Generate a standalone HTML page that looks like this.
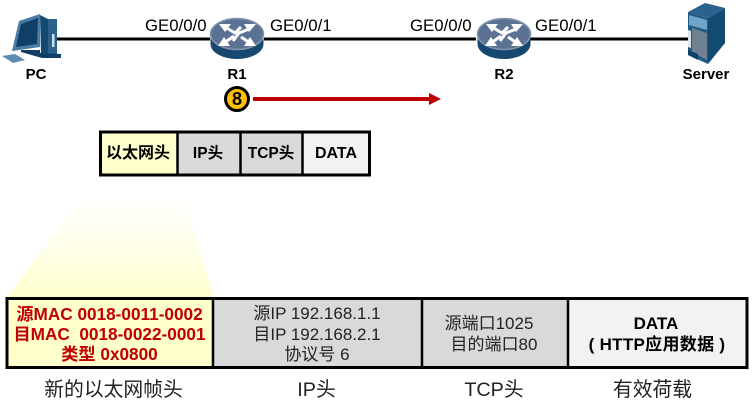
<!DOCTYPE html>
<html><head><meta charset="utf-8"><style>
html,body{margin:0;padding:0;background:#fff}
svg{display:block}
text{font-family:"Liberation Sans","Noto Sans CJK SC",sans-serif;fill:#000}
.b{font-weight:bold}
.r{fill:#c00000;font-weight:bold;font-size:17.200px}
.g{fill:#222;font-size:17px}
.c{fill:#222;font-size:19.800px}
</style></head><body>
<svg width="753" height="406" viewBox="0 0 753 406" xmlns="http://www.w3.org/2000/svg">
<defs>
<linearGradient id="fade" x1="0" y1="0" x2="0" y2="1"><stop offset="0" stop-color="#ffffcc" stop-opacity="0"/><stop offset="0.18" stop-color="#ffffcc" stop-opacity="0"/><stop offset="0.6" stop-color="#ffffcc" stop-opacity="0.45"/><stop offset="1" stop-color="#ffffcc"/></linearGradient>
<g id="router">
<path d="M-26.500 0V10A26.500 15 0 0 0 26.500 10V0Z" fill="#17486f"/>
<ellipse cx="0" cy="0" rx="26.500" ry="15.500" fill="#5c7295" stroke="#8496b0" stroke-width="1.500"/>
<g stroke="#fff" stroke-width="3" fill="none">
<path d="M-12 -7L-2 -1L4 -7M12 -5L2 -1L-4 7M-13 9L-3 2M13 9L4 3"/>
</g>
<g fill="#fff"><path d="M-18 -10L-6 -10L-12 -2Z"/><path d="M19 -10L7 -10L12 -2Z"/><path d="M-19 12L-7 12L-13 3Z"/><path d="M19 12L7 12L13 3Z"/></g>
</g>
</defs>
<path d="M56 39H210M264 39H476M530 39H690" stroke="#000" stroke-width="3" fill="none"/>

<!-- PC -->
<path d="M19 21L40 14V47L12 51Z" fill="#4a7ba3"/>
<path d="M21 24L38 18L37 44L16 47Z" fill="#0f3f66"/>
<path d="M40 15L48 19H57V55H41Z" fill="#134a72"/>
<path d="M48 19H57V54H48Z" fill="#2a628c"/>
<rect x="52" y="34" width="2.500" height="13" fill="#cfe0ea"/>
<path d="M21 50H40V53L61 54V58H42L21 52Z" fill="#0f3f66"/>
<path d="M2 56L15 54L25 60L13 63Z" fill="#5d8cb0"/>

<!-- routers -->
<use href="#router" x="237" y="34"/>
<use href="#router" x="504" y="34"/>

<!-- Server -->
<path d="M688 12L705 3L725 8L708 18Z" fill="#2a628c"/>
<path d="M708 18L725 8V43L708 64Z" fill="#134a72"/>
<path d="M688 12L708 18V64L688 55Z" fill="#1f5a85"/>
<path d="M689 15L707 20V30L689 25Z" fill="#6fa5c8"/>
<path d="M692 28L707 33V60L692 52Z" fill="#6f8090"/>
<path d="M688 30L691 31V48L688 47Z" fill="#dfe6ec"/>
<path d="M688 50L698 54V60L688 55Z" fill="#0f3f66"/>

<!-- labels -->
<text x="145" y="31" font-size="16.800">GE0/0/0</text>
<text x="270" y="31" font-size="16.800">GE0/0/1</text>
<text x="410" y="31" font-size="16.800">GE0/0/0</text>
<text x="535" y="31" font-size="16.800">GE0/0/1</text>
<text x="36" y="79" font-size="15" class="b" text-anchor="middle">PC</text>
<text x="237" y="79" font-size="15" class="b" text-anchor="middle">R1</text>
<text x="504" y="79" font-size="15" class="b" text-anchor="middle">R2</text>
<text x="706" y="79" font-size="15" class="b" text-anchor="middle">Server</text>

<!-- step arrow -->
<circle cx="237" cy="99" r="11.500" fill="#ffc000" stroke="#000" stroke-width="3"/>
<text x="237" y="105" font-size="18" class="b" text-anchor="middle">8</text>
<rect x="253" y="97" width="177" height="4" fill="#c00000"/>
<path d="M429 93L441 99L429 105Z" fill="#c00000"/>

<!-- fade -->
<path d="M99 175H177L214 298H6Z" fill="url(#fade)"/>

<!-- top table -->
<rect x="100.500" y="132.500" width="268" height="41" fill="#f2f2f2"/>
<rect x="100" y="132" width="77" height="42" fill="#ffffcc"/>
<rect x="177" y="132" width="63" height="42" fill="#d9d9d9"/>
<rect x="240" y="132" width="62" height="42" fill="#d9d9d9"/>
<rect x="100.500" y="132" width="269" height="43" fill="none" stroke="#000" stroke-width="3"/>
<path d="M177.500 132V174M240.500 132V174M302.500 132V174" stroke="#000" stroke-width="2.500"/>
<text x="138" y="158" font-size="16" class="b" text-anchor="middle">以太网头</text>
<text x="208" y="158" font-size="15.500" class="b" text-anchor="middle">IP头</text>
<text x="271" y="158" font-size="15.500" class="b" text-anchor="middle">TCP头</text>
<text x="336" y="158" font-size="16" class="b" text-anchor="middle">DATA</text>

<!-- bottom table -->
<rect x="7" y="299" width="206" height="68" fill="#ffffcc"/>
<rect x="213" y="299" width="208" height="68" fill="#d9d9d9"/>
<rect x="421" y="299" width="147" height="68" fill="#d9d9d9"/>
<rect x="568" y="299" width="178" height="68" fill="#f2f2f2"/>
<rect x="7" y="298.500" width="740" height="69" fill="none" stroke="#000" stroke-width="3"/>
<path d="M213 298V368M422 298V368M568 298V368" stroke="#000" stroke-width="2.500"/>

<text x="109.500" y="320" text-anchor="middle" class="r">源MAC 0018-0011-0002</text>
<text x="109.500" y="340" text-anchor="middle" class="r" xml:space="preserve">目MAC  0018-0022-0001</text>
<text x="109.500" y="360" text-anchor="middle" class="r">类型 0x0800</text>

<text x="317" y="319" text-anchor="middle" class="g">源IP 192.168.1.1</text>
<text x="317" y="340" text-anchor="middle" class="g">目IP 192.168.2.1</text>
<text x="317" y="360" text-anchor="middle" class="g">协议号 6</text>

<text x="489" y="329" text-anchor="middle" class="g">源端口1025</text>
<text x="494" y="350" text-anchor="middle" class="g">目的端口80</text>

<text x="656" y="329" text-anchor="middle" font-size="17" class="b">DATA</text>
<text x="657" y="350" text-anchor="middle" font-size="17" class="b" letter-spacing="0.300">( HTTP应用数据 )</text>

<text x="113.500" y="396" text-anchor="middle" class="c">新的以太网帧头</text>
<text x="316.500" y="396" text-anchor="middle" class="c">IP头</text>
<text x="494" y="396" text-anchor="middle" class="c">TCP头</text>
<text x="652.500" y="396" text-anchor="middle" class="c">有效荷载</text>
</svg>
</body></html>
